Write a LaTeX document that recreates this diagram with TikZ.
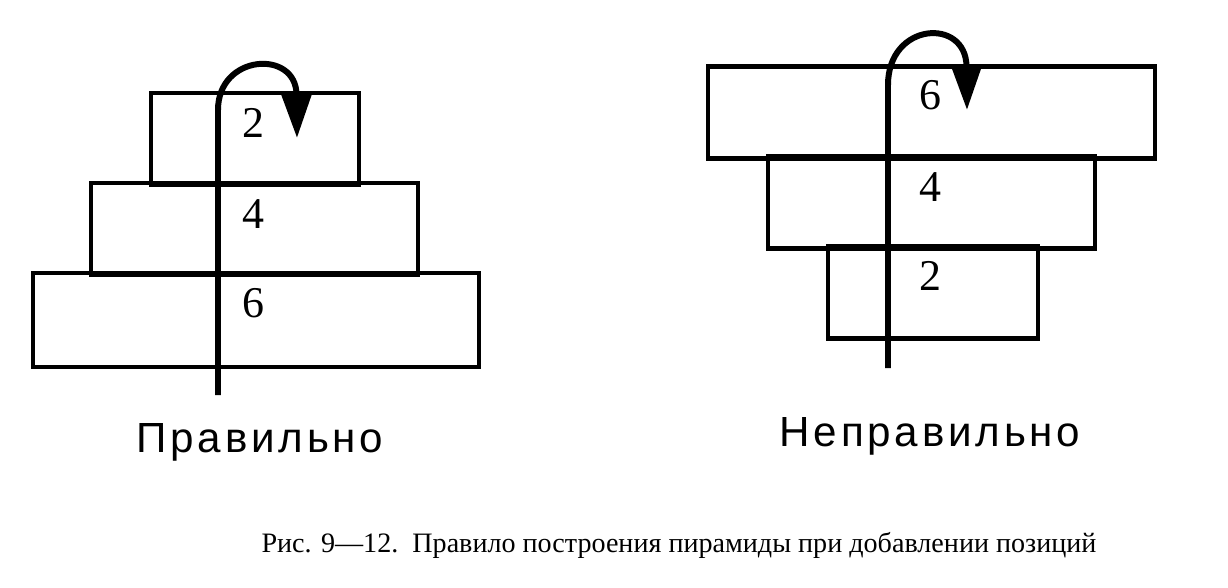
\documentclass[tikz,border=0pt]{standalone}
\usepackage{fontspec}
\setmainfont{Liberation Serif}
\newfontfamily\verdictfont[LetterSpace=9]{Liberation Sans}
\usetikzlibrary{arrows.meta}

\tikzset{
  layer/.style={draw, line width=2.4pt, minimum height=1.84cm, inner sep=0pt},
  digit/.style={font=\fontsize{25}{25}\selectfont},
  verdict/.style={font=\verdictfont\fontsize{24}{24}\selectfont},
  route/.style={line width=3.4pt, -{Triangle[length=0.9cm,width=0.6cm]}},
}

\begin{document}
\begin{tikzpicture}[x=0.02cm, y=-0.02cm]
		\useasboundingbox (0,0) rectangle (1228,588);
		%%%%% LEFT PYRAMID %%%%%
		\node[layer, minimum width=4.16cm] (leftTop) at (255,139) {};
		\node[layer, minimum width=6.54cm] (leftMid) at (254.5,229) {};
		\node[layer, minimum width=8.92cm, minimum height=1.88cm] (leftBot) at (256,320) {};
		
		\node[digit] (leftTwo) at (253,123) {2};
		\node[digit] (leftFour) at (253,214) {4};
		\node[digit] (leftSix) at (253,303) {6};
		
		\coordinate (leftStart) at (218,395);
		\coordinate (leftTip) at (297,138);
		\draw[route] (leftStart) -- (218,110) .. controls (218,54) and (296,49) .. (leftTip);
		
		\node[verdict] (leftText) at (260,442) {Правильно};
		
		%%%%% RIGHT PYRAMID %%%%%
		\node[layer, minimum width=8.94cm] (rightTop) at (931.5,112.5) {};
		\node[layer, minimum width=6.54cm] (rightMid) at (931.5,202.5) {};
		\node[layer, minimum width=4.20cm] (rightBot) at (933,292.5) {};
		
		\node[digit] (rightSix) at (930,95) {6};
		\node[digit] (rightFour) at (930,187) {4};
		\node[digit] (rightTwo) at (930,276) {2};
		
		\coordinate (rightStart) at (888,368);
		\coordinate (rightTip) at (967,110);
		\draw[route] (rightStart) -- (888,85) .. controls (888,22) and (966,17) .. (rightTip);
		
		\node[verdict] (rightText) at (930,436) {Неправильно};
		
		%%%%% CAPTION %%%%%
		\node[font=\fontsize{16}{16}\selectfont] (caption) at (679,545) {Рис. 9---12.\ \ Правило построения пирамиды при добавлении позиций};
	\end{tikzpicture}
\end{document}
